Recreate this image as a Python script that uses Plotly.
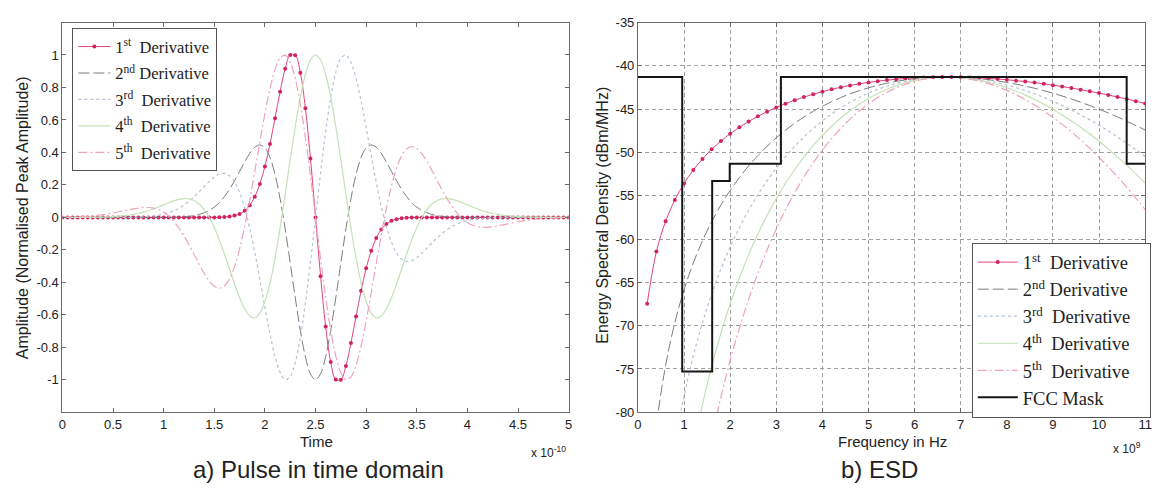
import plotly.graph_objects as go

# ---------------- data: time domain (time in units of 1e-10 s) ----------------
t_e10 = [0.0, 0.05, 0.1, 0.15, 0.2, 0.25, 0.3, 0.35, 0.4, 0.45, 0.5, 0.55, 0.6, 0.65, 0.7, 0.75, 0.8, 0.85, 0.9, 0.95,
         1.0, 1.05, 1.1, 1.15, 1.2, 1.25, 1.3, 1.35, 1.4, 1.45, 1.5, 1.55, 1.6, 1.65, 1.7, 1.75, 1.8, 1.85, 1.9, 1.95,
         2.0, 2.05, 2.1, 2.15, 2.2, 2.25, 2.3, 2.35, 2.4, 2.45, 2.5, 2.55, 2.6, 2.65, 2.7, 2.75, 2.8, 2.85, 2.9, 2.95,
         3.0, 3.05, 3.1, 3.15, 3.2, 3.25, 3.3, 3.35, 3.4, 3.45, 3.5, 3.55, 3.6, 3.65, 3.7, 3.75, 3.8, 3.85, 3.9, 3.95,
         4.0, 4.05, 4.1, 4.15, 4.2, 4.25, 4.3, 4.35, 4.4, 4.45, 4.5, 4.55, 4.6, 4.65, 4.7, 4.75, 4.8, 4.85, 4.9, 4.95, 5.0]

deriv1 = [0, 0, 0, 0, 0, 0, 0, 0, 0, 0, 0, 0, 0, 0, 0, 0, 0, 0, 0, 0, 0, 0, 0, 0, 0, 0, 0, 0, 0, 0, 0,
          0.001, 0.002, 0.005, 0.011, 0.021, 0.041, 0.074, 0.127, 0.206, 0.314, 0.452, 0.611, 0.774, 0.915, 1.0, 0.999, 0.891, 0.672, 0.362,
          0.0,
          -0.362, -0.672, -0.891, -0.999, -1.0, -0.915, -0.774, -0.611, -0.452, -0.314, -0.206, -0.127, -0.074, -0.041, -0.021, -0.011, -0.005, -0.002, -0.001,
          0, 0, 0, 0, 0, 0, 0, 0, 0, 0, 0, 0, 0, 0, 0, 0, 0, 0, 0, 0, 0, 0, 0, 0, 0, 0, 0, 0, 0, 0, 0]

deriv2 = [0, 0, 0, 0, 0, 0, 0, 0, 0, 0, 0, 0, 0, 0, 0, 0, 0, 0, 0, 0, 0, 0,
          0.001, 0.002, 0.004, 0.006, 0.011, 0.018, 0.028, 0.043, 0.063, 0.091, 0.128, 0.173, 0.225, 0.283, 0.341, 0.394, 0.432, 0.446,
          0.428, 0.368, 0.264, 0.115, -0.071, -0.280, -0.496, -0.696, -0.858, -0.963,
          -1.0,
          -0.963, -0.858, -0.696, -0.496, -0.280, -0.071, 0.115, 0.264, 0.368, 0.428,
          0.446, 0.432, 0.394, 0.341, 0.283, 0.225, 0.173, 0.128, 0.091, 0.063, 0.043, 0.028, 0.018, 0.011, 0.006, 0.004, 0.002, 0.001,
          0, 0, 0, 0, 0, 0, 0, 0, 0, 0, 0, 0, 0, 0, 0, 0, 0, 0, 0, 0, 0, 0]

deriv3 = [0, 0, 0, 0, 0, 0, 0, 0, 0, 0, 0, 0, 0, 0,
          0.001, 0.002, 0.004, 0.006, 0.009, 0.014, 0.020, 0.029, 0.041, 0.056, 0.076, 0.099, 0.127, 0.157, 0.190, 0.221, 0.248, 0.267,
          0.271, 0.257, 0.219, 0.153, 0.058, -0.067, -0.216, -0.382, -0.554, -0.717, -0.856, -0.954, -0.999, -0.979, -0.892, -0.738, -0.528, -0.275,
          0.0,
          0.275, 0.528, 0.738, 0.892, 0.979, 0.999, 0.954, 0.856, 0.717, 0.554, 0.382, 0.216, 0.067, -0.058, -0.153, -0.219, -0.257, -0.271,
          -0.267, -0.248, -0.221, -0.190, -0.157, -0.127, -0.099, -0.076, -0.056, -0.041, -0.029, -0.020, -0.014, -0.009, -0.006, -0.004, -0.002, -0.001,
          0, 0, 0, 0, 0, 0, 0, 0, 0, 0, 0, 0, 0, 0]

deriv4 = [0, 0, 0, 0, 0, 0,
          0.001, 0.001, 0.002, 0.003, 0.005, 0.007, 0.010, 0.013, 0.018, 0.024, 0.032, 0.041, 0.052, 0.064, 0.077, 0.090, 0.102, 0.111,
          0.116, 0.114, 0.104, 0.082, 0.048, -0.001, -0.063, -0.139, -0.226, -0.318, -0.410, -0.495, -0.563, -0.607, -0.618, -0.589,
          -0.518, -0.404, -0.251, -0.065, 0.142, 0.355, 0.560, 0.740, 0.880, 0.969,
          1.0,
          0.969, 0.880, 0.740, 0.560, 0.355, 0.142, -0.065, -0.251, -0.404, -0.518,
          -0.589, -0.618, -0.607, -0.563, -0.495, -0.410, -0.318, -0.226, -0.139, -0.063, -0.001, 0.048, 0.082, 0.104, 0.114, 0.116,
          0.111, 0.102, 0.090, 0.077, 0.064, 0.052, 0.041, 0.032, 0.024, 0.018, 0.013, 0.010, 0.007, 0.005, 0.003, 0.002, 0.001, 0.001,
          0, 0, 0, 0, 0, 0]

deriv5 = [0.002, 0.002, 0.003, 0.004, 0.006, 0.008, 0.010, 0.013, 0.017, 0.022, 0.027, 0.033, 0.040, 0.046, 0.052, 0.057, 0.061, 0.061,
          0.057, 0.047, 0.031, 0.008, -0.025, -0.065, -0.114, -0.169, -0.228, -0.288, -0.345, -0.392, -0.424, -0.436, -0.422, -0.379,
          -0.303, -0.194, -0.056, 0.106, 0.283, 0.465, 0.639, 0.792, 0.910, 0.982, 0.999, 0.956, 0.854, 0.696, 0.492, 0.255,
          0.0,
          -0.255, -0.492, -0.696, -0.854, -0.956, -0.999, -0.982, -0.910, -0.792, -0.639, -0.465, -0.283, -0.106, 0.056, 0.194, 0.303,
          0.379, 0.422, 0.436, 0.424, 0.392, 0.345, 0.288, 0.228, 0.169, 0.114, 0.065, 0.025, -0.008, -0.031, -0.047, -0.057, -0.061,
          -0.061, -0.057, -0.052, -0.046, -0.040, -0.033, -0.027, -0.022, -0.017, -0.013, -0.010, -0.008, -0.006, -0.004, -0.003, -0.002, -0.002]

# ---------------- data: ESD (frequency in GHz, dBm/MHz) ----------------
freq_ghz = [0.2, 0.4, 0.6, 0.8, 1.0, 1.2, 1.4, 1.6, 1.8, 2.0, 2.2, 2.4, 2.6, 2.8, 3.0, 3.2, 3.4, 3.6, 3.8, 4.0,
            4.2, 4.4, 4.6, 4.8, 5.0, 5.2, 5.4, 5.6, 5.8, 6.0, 6.2, 6.4, 6.6, 6.8, 7.0, 7.2, 7.4, 7.6, 7.8, 8.0,
            8.2, 8.4, 8.6, 8.8, 9.0, 9.2, 9.4, 9.6, 9.8, 10.0, 10.2, 10.4, 10.6, 10.8, 11.0]

esd1 = [-67.46, -61.45, -57.95, -55.48, -53.58, -52.03, -50.75, -49.64, -48.69, -47.84,
        -47.10, -46.43, -45.83, -45.29, -44.81, -44.37, -43.97, -43.61, -43.28, -42.99,
        -42.72, -42.48, -42.27, -42.08, -41.92, -41.77, -41.65, -41.55, -41.46, -41.40,
        -41.35, -41.32, -41.30, -41.30, -41.32, -41.35, -41.39, -41.45, -41.52, -41.61,
        -41.71, -41.82, -41.94, -42.08, -42.23, -42.39, -42.56, -42.75, -42.95, -43.15,
        -43.37, -43.60, -43.84, -44.09, -44.36]
esd2 = [-93.62, -81.61, -74.60, -69.66, -65.85, -62.77, -60.19, -57.99, -56.07, -54.39,
        -52.90, -51.56, -50.37, -49.29, -48.31, -47.43, -46.63, -45.91, -45.26, -44.67,
        -44.14, -43.66, -43.24, -42.87, -42.54, -42.25, -42.00, -41.80, -41.63, -41.50,
        -41.40, -41.34, -41.30, -41.30, -41.33, -41.39, -41.48, -41.60, -41.75, -41.92,
        -42.12, -42.34, -42.59, -42.86, -43.16, -43.48, -43.83, -44.20, -44.59, -45.01,
        -45.44, -45.90, -46.39, -46.89, -47.41]
esd3 = [-119.79, -101.76, -91.25, -83.84, -78.13, -73.50, -69.64, -66.33, -63.46, -60.93,
        -58.69, -56.69, -54.90, -53.28, -51.82, -50.50, -49.30, -48.22, -47.24, -46.36,
        -45.56, -44.85, -44.21, -43.65, -43.15, -42.72, -42.36, -42.05, -41.79, -41.59,
        -41.45, -41.35, -41.31, -41.31, -41.35, -41.44, -41.58, -41.75, -41.97, -42.23,
        -42.52, -42.86, -43.23, -43.64, -44.09, -44.57, -45.09, -45.65, -46.24, -46.86,
        -47.52, -48.21, -48.93, -49.68, -50.47]
esd4 = [-145.95, -121.91, -107.90, -98.01, -90.40, -84.24, -79.08, -74.67, -70.85, -67.48,
        -64.49, -61.83, -59.43, -57.27, -55.33, -53.56, -51.97, -50.53, -49.22, -48.04,
        -46.98, -46.03, -45.18, -44.43, -43.77, -43.20, -42.71, -42.29, -41.96, -41.69,
        -41.50, -41.37, -41.31, -41.31, -41.37, -41.49, -41.67, -41.90, -42.19, -42.53,
        -42.93, -43.38, -43.88, -44.42, -45.02, -45.67, -46.36, -47.10, -47.88, -48.71,
        -49.59, -50.51, -51.47, -52.48, -53.53]
esd5 = [-172.11, -142.06, -124.55, -112.19, -102.68, -94.97, -88.53, -83.02, -78.23, -74.02,
        -70.29, -66.96, -63.97, -61.27, -58.83, -56.63, -54.64, -52.83, -51.20, -49.73,
        -48.40, -47.21, -46.15, -45.21, -44.39, -43.67, -43.06, -42.54, -42.12, -41.79,
        -41.55, -41.39, -41.31, -41.31, -41.39, -41.54, -41.76, -42.05, -42.41, -42.84,
        -43.34, -43.90, -44.52, -45.20, -45.95, -46.76, -47.62, -48.55, -49.53, -50.57,
        -51.66, -52.81, -54.01, -55.27, -56.59]

fcc_freq_ghz = [0.0, 0.96, 1.61, 1.99, 3.1, 10.6, 11.0]
fcc_level = [-41.3, -75.3, -53.3, -51.3, -41.3, -51.3, -51.3]

# ---------------- tick labels ----------------
time_ticks = [0, 0.5, 1, 1.5, 2, 2.5, 3, 3.5, 4, 4.5, 5]
time_ticktext = ["0", "0.5", "1", "1.5", "2", "2.5", "3", "3.5", "4", "4.5", "5"]
amp_ticks = [-1, -0.8, -0.6, -0.4, -0.2, 0, 0.2, 0.4, 0.6, 0.8, 1]
amp_ticktext = ["-1", "-0.8", "-0.6", "-0.4", "-0.2", "0", "0.2", "0.4", "0.6", "0.8", "1"]
freq_ticks = [0, 1, 2, 3, 4, 5, 6, 7, 8, 9, 10, 11]
freq_ticktext = ["0", "1", "2", "3", "4", "5", "6", "7", "8", "9", "10", "11"]
esd_ticks = [-80, -75, -70, -65, -60, -55, -50, -45, -40, -35]
esd_ticktext = ["-80", "-75", "-70", "-65", "-60", "-55", "-50", "-45", "-40", "-35"]

names = ["1<sup>st</sup>  Derivative", "2<sup>nd</sup> Derivative", "3<sup>rd</sup>  Derivative",
         "4<sup>th</sup>  Derivative", "5<sup>th</sup>  Derivative"]
fcc_name = "FCC Mask"
PAD = "\u00a0\u00a0\u00a0"  # right padding inside the ESD legend box

# ---------------- styles ----------------
C1, C1M = "#e2437c", "#d1245f"
styles = [
    dict(color=C1, width=1),
    dict(color="#7d7d7d", width=1, dash="11px,4px"),
    dict(color="#b3c2d6", width=1.2, dash="3px,3px"),
    dict(color="#c3e2b6", width=1.2),
    dict(color="#f0a3bb", width=1.2, dash="9px,3px,2px,3px"),
]

fig = go.Figure()

time_series = [deriv1, deriv2, deriv3, deriv4, deriv5]
for k, ys in enumerate(time_series):
    fig.add_trace(go.Scatter(
        x=t_e10, y=ys, name=names[k], xaxis="x", yaxis="y", legend="legend",
        legendgroup="t%d" % k,
        mode="lines+markers" if k == 0 else "lines",
        line=dict(shape="spline", **styles[k]),
        marker=dict(size=4, color=C1M) if k == 0 else None,
    ))

esd_series = [esd1, esd2, esd3, esd4, esd5]
for k, ys in enumerate(esd_series):
    fig.add_trace(go.Scatter(
        x=freq_ghz, y=ys, name=names[k] + PAD, xaxis="x2", yaxis="y2", legend="legend2",
        legendgroup="f%d" % k,
        mode="lines+markers" if k == 0 else "lines",
        line=dict(shape="spline", **styles[k]),
        marker=dict(size=4, color=C1M) if k == 0 else None,
    ))

fig.add_trace(go.Scatter(
    x=fcc_freq_ghz, y=fcc_level, name=fcc_name, xaxis="x2", yaxis="y2", legend="legend2",
    legendgroup="fcc", mode="lines", line=dict(color="#151515", width=2, shape="hv"),
))

W, H = 1165, 492
tickfont = dict(family="Liberation Sans, Arial", size=13, color="#222")
axis_common = dict(showline=True, linecolor="#6a6a6a", linewidth=1, mirror="ticks", ticks="inside",
                   ticklen=4, tickcolor="#6a6a6a", zeroline=False, tickfont=tickfont, tickmode="array")
ydom = [1 - 418 / H, 1 - 16 / H]

legend_base = dict(xanchor="left", yanchor="top", bgcolor="white", bordercolor="#555", borderwidth=1)
serif = "Liberation Serif, Times New Roman"

fig.update_layout(
    width=W, height=H, margin=dict(l=0, r=0, t=0, b=0),
    paper_bgcolor="white", plot_bgcolor="white",
    xaxis=dict(domain=[59 / W, 570 / W], range=[0, 5], tickvals=time_ticks, ticktext=time_ticktext,
               anchor="y", showgrid=False, **axis_common),
    yaxis=dict(domain=ydom, range=[-1.2, 1.2], tickvals=amp_ticks, ticktext=amp_ticktext,
               anchor="x", showgrid=False, **axis_common),
    xaxis2=dict(domain=[640 / W, 1152 / W], range=[0, 11], tickvals=freq_ticks, ticktext=freq_ticktext,
                anchor="y2", showgrid=True, gridcolor="#a0a0a0", griddash="4px,3px", gridwidth=1, **axis_common),
    yaxis2=dict(domain=ydom, range=[-80, -35], tickvals=esd_ticks, ticktext=esd_ticktext,
                anchor="x2", showgrid=True, gridcolor="#a0a0a0", griddash="4px,3px", gridwidth=1, **axis_common),
    legend=dict(x=69 / W, y=1 - 22 / H, font=dict(family=serif, size=16.5, color="#222"),
                itemwidth=32, tracegroupgap=2, **legend_base),
    legend2=dict(x=977 / W, y=1 - 243 / H, font=dict(family=serif, size=18.5, color="#222"),
                 itemwidth=40, tracegroupgap=0, **legend_base),
    showlegend=True,
)

lab = dict(family="Liberation Sans, Arial", color="#222")
ann = [
    dict(text="Time", x=315, y=448, size=15),
    dict(text="x 10<sup>-10</sup>", x=550, y=459, size=12),
    dict(text="a) Pulse in time domain", x=317, y=477, size=24),
    dict(text="Frequency in Hz", x=897, y=448, size=15),
    dict(text="x 10<sup>9</sup>", x=1134, y=455, size=12),
    dict(text="b) ESD", x=884, y=477, size=24),
]
for a in ann:
    fig.add_annotation(text=a["text"], x=a["x"] / W, y=1 - a["y"] / H, xref="paper", yref="paper",
                       showarrow=False, xanchor="center", yanchor="middle",
                       font=dict(size=a["size"], **lab))
fig.add_annotation(text="Amplitude (Normalised Peak Amplitude)", x=19 / W, y=1 - 217 / H, xref="paper",
                   yref="paper", showarrow=False, textangle=-90, xanchor="center", yanchor="middle",
                   font=dict(size=16, **lab))
fig.add_annotation(text="Energy Spectral Density (dBm/MHz)", x=604 / W, y=1 - 215 / H, xref="paper",
                   yref="paper", showarrow=False, textangle=-90, xanchor="center", yanchor="middle",
                   font=dict(size=16, **lab))

fig.write_html("out.html")
